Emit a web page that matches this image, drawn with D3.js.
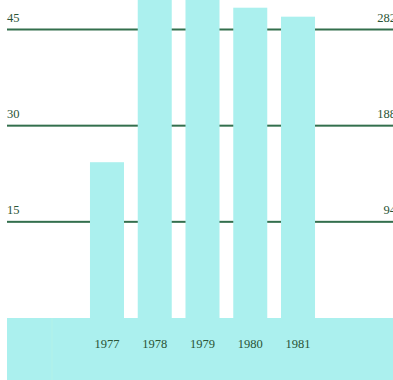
<!DOCTYPE html>
<html>
<head>
<meta charset="utf-8">
<script src="https://cdn.jsdelivr.net/npm/d3@7"></script>
<style>
  html, body { margin: 0; padding: 0; background: #ffffff; }
  svg { display: block; }
  text { font-family: "Liberation Serif", "DejaVu Serif", serif; }
</style>
</head>
<body>
<svg id="chart" width="393" height="380"></svg>
<script>
// Yearly values (left scale) and the two tick sets
const years = ["1977", "1978", "1979", "1980", "1981"];
const values = [24.3, 51.5, 52.5, 48.4, 47.0];
const leftTicks = [15, 30, 45];
const rightTicks = [94, 188, 282];

const W = 393, H = 380;
const svg = d3.select("#chart");

const barColor = "#abf0ee";
const lineColor = "#336f4d";
const textColor = "#2a5436";

const y = d3.scaleLinear().domain([0, 45]).range([318, 29.5]);
const yRight = d3.scaleLinear().domain([0, 282]).range([318, 29.5]);
const x = d3.scaleBand().domain(years).range([83.1, 321.9])
  .paddingInner(0.288).paddingOuter(0.144);

// Gridlines run full width behind the bars
svg.append("g").selectAll("rect").data(leftTicks).join("rect")
  .attr("x", 7).attr("width", W - 7)
  .attr("y", d => y(d) - 1).attr("height", 2)
  .attr("fill", lineColor);

// Left axis labels
const leftAxis = d3.axisLeft(y).tickValues(leftTicks).tickSize(0).tickPadding(0);
const gl = svg.append("g").attr("transform", "translate(7,0)").call(leftAxis);
gl.select(".domain").remove();
gl.selectAll("text")
  .attr("text-anchor", "start").attr("x", 0).attr("dy", "-8px")
  .attr("fill", textColor).style("font-size", "12.5px");

// Right axis labels, running off the right edge
const rightAxis = d3.axisRight(yRight).tickValues(rightTicks).tickSize(0).tickPadding(0);
const gr = svg.append("g").attr("transform", "translate(396,0)").call(rightAxis);
gr.select(".domain").remove();
gr.selectAll("text")
  .attr("text-anchor", "end").attr("x", 0).attr("dy", "-8px")
  .attr("fill", textColor).style("font-size", "12.5px");

// Bars
svg.append("g").selectAll("rect").data(values).join("rect")
  .attr("x", (d, i) => x(years[i]))
  .attr("width", x.bandwidth())
  .attr("y", d => y(d))
  .attr("height", d => y(0) - y(d))
  .attr("fill", barColor);

// Base band under the bars
svg.append("rect")
  .attr("x", 7).attr("y", y(0))
  .attr("width", W - 7).attr("height", H - y(0))
  .attr("fill", barColor);
svg.append("rect")
  .attr("x", 51).attr("y", y(0))
  .attr("width", 2).attr("height", H - y(0))
  .attr("fill", "#b3f2e8").attr("opacity", 0.5);

// Year labels
const bottomAxis = d3.axisBottom(x).tickSize(0).tickPadding(0);
const gb = svg.append("g").attr("transform", "translate(0,348)").call(bottomAxis);
gb.select(".domain").remove();
gb.selectAll("text")
  .attr("y", 0).attr("dy", 0)
  .attr("fill", textColor).style("font-size", "12.5px");
</script>
</body>
</html>
